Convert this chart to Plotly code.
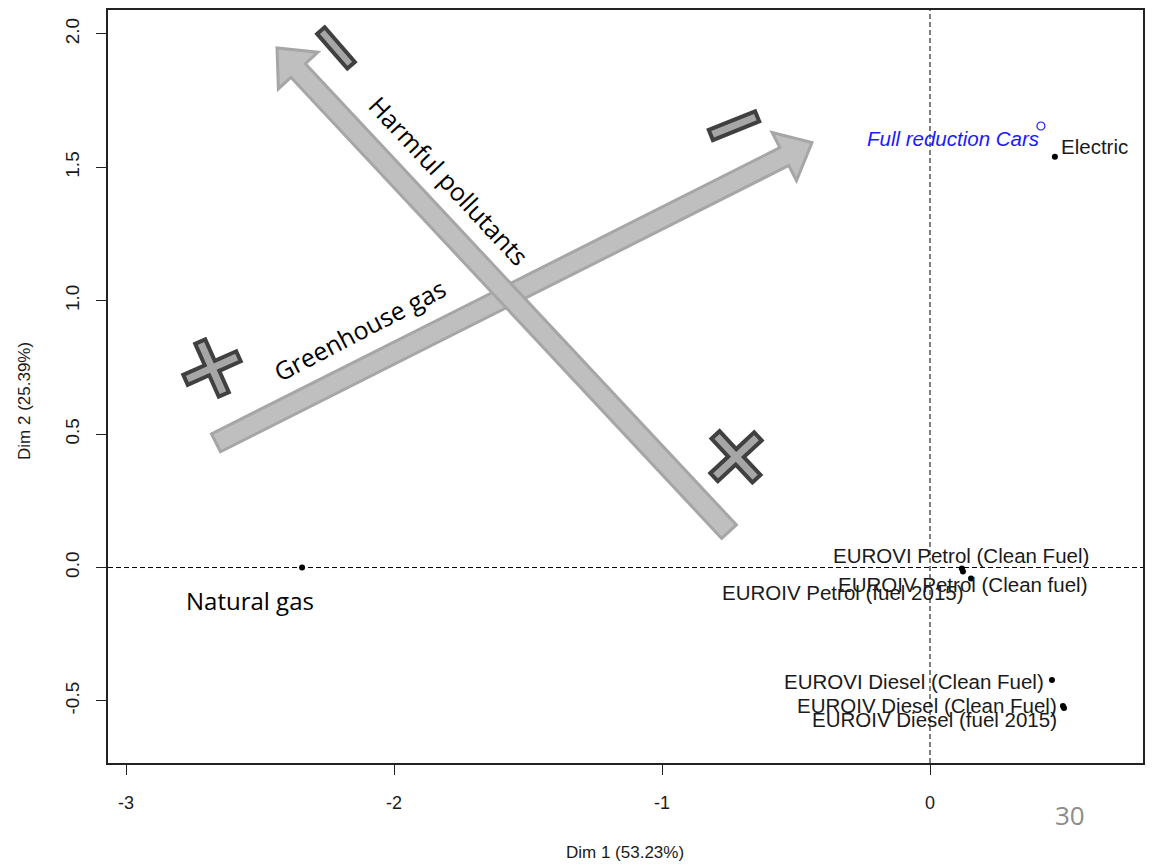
import math
import plotly.graph_objects as go

# ---------------- data ----------------
categories = ["Natural gas", "Electric",
              "EUROVI Petrol (Clean Fuel)", "EUROIV Petrol (fuel 2015)", "EUROIV Petrol (Clean fuel)",
              "EUROVI Diesel (Clean Fuel)", "EUROIV Diesel (Clean Fuel)", "EUROIV Diesel (fuel 2015)"]
dim1 = [-2.343, 0.466, 0.119, 0.123, 0.153, 0.455, 0.496, 0.500]
dim2 = [0.000, 1.540, -0.004, -0.015, -0.041, -0.422, -0.519, -0.527]

supp_names = ["Full reduction Cars"]
supp_dim1 = [0.414]
supp_dim2 = [1.655]

x_ticks = [-3, -2, -1, 0]
x_ticktext = ["-3", "-2", "-1", "0"]
y_ticks = [-0.5, 0.0, 0.5, 1.0, 1.5, 2.0]
y_ticktext = ["-0.5", "0.0", "0.5", "1.0", "1.5", "2.0"]

x_title = "Dim 1 (53.23%)"
y_title = "Dim 2 (25.39%)"

# ---------------- layout geometry (page pixels) ----------------
W, H = 1157, 865
OFF = 8                      # default body margin of the html page
L, R, T, B = 108, 1143, 8, 763
XR = [-3.0672, 0.7948]
YR = [-0.7327, 2.0897]


def px2d(px, py):
    x = XR[0] + (px - L) / (R - L) * (XR[1] - XR[0])
    y = YR[1] - (py - T) / (B - T) * (YR[1] - YR[0])
    return x, y


def paper(px, py):
    return (px - L) / (R - L), (B - py) / (B - T)


def path_from_px(pts):
    s = ""
    for i, (px, py) in enumerate(pts):
        x, y = px2d(px, py)
        s += ("M" if i == 0 else "L") + f"{x:.5f},{y:.5f} "
    return s + "Z"


def arrow_pts(tail, tip, s, h, w):
    dx, dy = tip[0] - tail[0], tip[1] - tail[1]
    n = math.hypot(dx, dy)
    ux, uy = dx / n, dy / n
    nx, ny = -uy, ux
    bx, by = tip[0] - h * ux, tip[1] - h * uy
    return [(tail[0] + s * nx, tail[1] + s * ny), (bx + s * nx, by + s * ny),
            (bx + w * nx, by + w * ny), tip,
            (bx - w * nx, by - w * ny), (bx - s * nx, by - s * ny),
            (tail[0] - s * nx, tail[1] - s * ny)]


def rot(pts, c, deg):
    t = math.radians(deg)
    ct, st = math.cos(t), math.sin(t)
    return [(c[0] + x * ct - y * st, c[1] + x * st + y * ct) for x, y in pts]


def plus_pts(c, a, b, deg):
    loc = [(b, -a), (b, -b), (a, -b), (a, b), (b, b), (b, a), (-b, a), (-b, b),
           (-a, b), (-a, -b), (-b, -b), (-b, -a)]
    return rot(loc, c, deg)


def minus_pts(c, ln, wd, deg):
    a, b = ln / 2, wd / 2
    return rot([(-a, -b), (a, -b), (a, b), (-a, b)], c, deg)


R_FONT = "Liberation Sans, Arial, sans-serif"
PPT_FONT = "Open Sans, Noto Sans, sans-serif"

fig = go.Figure()

# zero reference lines
fig.add_hline(y=0, line=dict(color="black", width=1, dash="5px,3px"), layer="below")
fig.add_vline(x=0, line=dict(color="black", width=1, dash="5px,3px"), layer="below")

# active points
fig.add_trace(go.Scatter(x=dim1, y=dim2, mode="markers",
                         marker=dict(color="black", size=6), hoverinfo="text",
                         text=categories, showlegend=False))
# supplementary point
fig.add_trace(go.Scatter(x=supp_dim1, y=supp_dim2, mode="markers",
                         marker=dict(color="rgba(0,0,0,0)", size=8,
                                     line=dict(color="#1a1aff", width=1.2)),
                         hoverinfo="text", text=supp_names, showlegend=False))

# labels (offsets in pixels)
label_style = {
    "Natural gas": ("center", -52, -33),
    "Electric": ("left", 5, 10),
    "EUROVI Petrol (Clean Fuel)": ("center", -1, 13),
    "EUROIV Petrol (fuel 2015)": ("right", 2, -21),
    "EUROIV Petrol (Clean fuel)": ("center", -8, -6),
    "EUROVI Diesel (Clean Fuel)": ("right", -7, -1),
    "EUROIV Diesel (Clean Fuel)": ("right", -5, 0),
    "EUROIV Diesel (fuel 2015)": ("right", -6, -11),
}
for name, x, y in zip(categories, dim1, dim2):
    anc, xs, ys = label_style[name]
    if name == "Natural gas":
        font = dict(family=PPT_FONT, size=24, color="black")
    else:
        font = dict(family=R_FONT, size=20.5, color="#1a1a1a")
    fig.add_annotation(x=x, y=y, text=name, showarrow=False, xanchor=anc, yanchor="middle",
                       xshift=xs, yshift=ys, font=font, borderpad=0)

for name, x, y in zip(supp_names, supp_dim1, supp_dim2):
    fig.add_annotation(x=x, y=y, text=f"<i>{name}</i>", showarrow=False, xanchor="right",
                       yanchor="middle", xshift=-1, yshift=-13, borderpad=0,
                       font=dict(family=R_FONT, size=20.5, color="#1a1aff"))

# ---------------- decorative overlay (block arrows, + / - signs) ----------------
arrow_fill, arrow_line = "#BFBFBF", "#A6A6A6"
sign_fill, sign_line = "#A6A6A6", "#404040"

shapes = []
# Greenhouse gas arrow (drawn first), then Harmful pollutants arrow on top
for tail, tip in [((216, 442), (812, 141)), ((729, 531), (277, 46))]:
    shapes.append(dict(type="path", xref="x", yref="y",
                       path=path_from_px(arrow_pts(tail, tip, 10, 31, 27)),
                       fillcolor=arrow_fill, line=dict(color=arrow_line, width=3), layer="above"))
# plus signs
for c, a, deg in [((212, 367), 29, -24), ((736, 456), 30, 47)]:
    shapes.append(dict(type="path", xref="x", yref="y",
                       path=path_from_px(plus_pts(c, a, 5.5, deg)),
                       fillcolor=sign_fill, line=dict(color=sign_line, width=4), layer="above"))
# minus signs
for c, ln, wd, deg in [((336, 46), 46, 10, 49), ((734, 124), 50, 11, -22)]:
    shapes.append(dict(type="path", xref="x", yref="y",
                       path=path_from_px(minus_pts(c, ln, wd, deg)),
                       fillcolor=sign_fill, line=dict(color=sign_line, width=4), layer="above"))
for s in shapes:
    fig.add_shape(**s)

# rotated arrow captions
for text, (px, py), ang in [("Greenhouse gas", (359, 329), -27.5), ("Harmful pollutants", (449, 178), 47)]:
    x, y = px2d(px, py)
    fig.add_annotation(x=x, y=y, text=text, showarrow=False, textangle=ang,
                       xanchor="center", yanchor="middle",
                       font=dict(family=PPT_FONT, size=25, color="black"))

# axis titles
tx, ty = paper(625, 853)
fig.add_annotation(xref="paper", yref="paper", x=tx, y=ty, xanchor="center", yanchor="middle",
                   text=x_title, showarrow=False,
                   font=dict(family=R_FONT, size=17, color="#1a1a1a"))
tx, ty = paper(25, 400)
fig.add_annotation(xref="paper", yref="paper", x=tx, y=ty, xanchor="center", yanchor="middle",
                   text=y_title, showarrow=False, textangle=-90,
                   font=dict(family=R_FONT, size=17, color="#1a1a1a"))

# slide number
tx, ty = paper(1070, 815)
fig.add_annotation(xref="paper", yref="paper", x=tx, y=ty, xanchor="center", yanchor="middle",
                   text="30", showarrow=False,
                   font=dict(family=PPT_FONT, size=26, color="#8c8c8c"))

axis_common = dict(showgrid=False, zeroline=False, showline=True, mirror=True,
                   linecolor="#222222", linewidth=1.5, ticks="outside", ticklen=10,
                   tickcolor="#222222", tickwidth=1.2)

fig.update_layout(
    width=W - OFF, height=H - OFF,
    margin=dict(l=L - OFF, r=W - R, t=T - OFF, b=H - B, pad=0),
    paper_bgcolor="white", plot_bgcolor="white",
    xaxis=dict(range=XR, tickvals=x_ticks, ticktext=x_ticktext, ticklabelstandoff=13,
               tickfont=dict(family=R_FONT, size=18, color="#1a1a1a"), **axis_common),
    yaxis=dict(range=YR, tickvals=y_ticks, ticktext=y_ticktext, tickangle=-90,
               ticklabelstandoff=10,
               tickfont=dict(family=R_FONT, size=19, color="#1a1a1a"), **axis_common),
)

fig.write_html("out.html")
